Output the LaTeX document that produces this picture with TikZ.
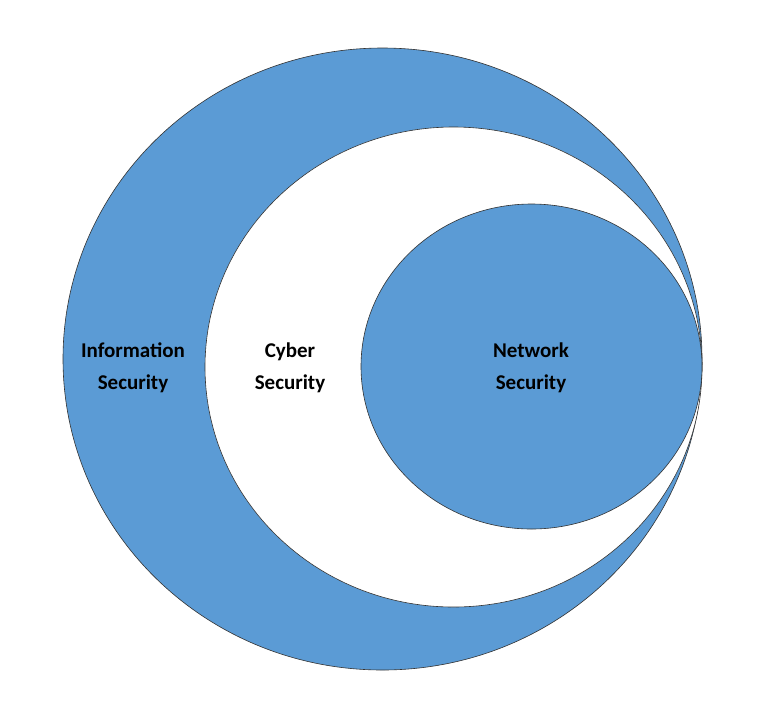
\documentclass[tikz,border=0pt]{standalone}
\usepackage{fontspec}
\setmainfont{Carlito}
\begin{document}
\begin{tikzpicture}[x=1pt,y=-1pt,
  ring/.style={draw=black!80,line width=0.6pt},
  lbl/.style={font=\bfseries\fontsize{21}{32}\selectfont,align=center}]
\useasboundingbox (0,0) rectangle (762,721);
\definecolor{blu}{HTML}{5B9BD5}
\fill[white] (0,0) rectangle (762,721);
\draw[ring,fill=blu] (382.5,359) ellipse [x radius=319.5,y radius=311];
\draw[ring,fill=white] (453.5,367) ellipse [x radius=248.5,y radius=240];
\draw[ring,fill=blu] (531.5,366.5) ellipse [x radius=170.5,y radius=162.5];
\node[lbl] (info) at (133,368) {Information\\Security};
\node[lbl] (cyber) at (290,368) {Cyber\\Security};
\node[lbl] (net) at (531,368) {Network\\Security};
\end{tikzpicture}
\end{document}
